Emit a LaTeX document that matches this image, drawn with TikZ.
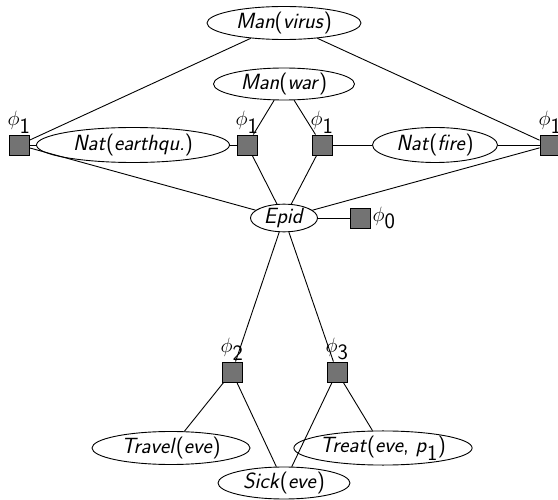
\documentclass[tikz,border=0pt]{standalone}
\usetikzlibrary{shapes.geometric}
\begin{document}
\begin{tikzpicture}[x=1pt,y=-1pt,
  every node/.style={font=\sffamily\fontsize{22}{26}\selectfont},
  var/.style={ellipse,draw,line width=0.9pt,inner sep=0pt},
  fac/.style={rectangle,draw,line width=0.9pt,fill=black!55,minimum size=20pt,inner sep=0pt},
  edge/.style={line width=0.9pt}]
\useasboundingbox (0,0) rectangle (558,500);
\newcommand{\lbl}[2]{\textit{#1}(\textit{#2})}
\newcommand{\phisub}[1]{$\phi_{\textsf{#1}}$}
\node[var,minimum width=154pt,minimum height=33pt] (virus) at (284,23) {\lbl{Man}{virus}};
\node[var,minimum width=141pt,minimum height=32pt] (war) at (284,84) {\lbl{Man}{war}};
\node[var,minimum width=193pt,minimum height=35pt] (eq) at (133,145) {\lbl{Nat}{earthqu.}};
\node[var,minimum width=125pt,minimum height=35pt] (fire) at (435,145) {\lbl{Nat}{fire}};
\node[var,minimum width=67pt,minimum height=25pt] (epid) at (284,218) {\textit{Epid}};
\node[var,minimum width=158pt,minimum height=33pt] (travel) at (171,448) {\lbl{Travel}{eve}};
\node[var,minimum width=164pt,minimum height=33pt] (treat) at (383,448) {\textit{Treat}(\textit{eve}, \textit{p}$_{\textsf{1}}$)};
\node[var,minimum width=132pt,minimum height=32pt] (sick) at (284,483) {\lbl{Sick}{eve}};
\node[fac,label={[inner sep=1pt]above:\phisub{1}}] (f1a) at (19,145) {};
\node[fac,label={[inner sep=1pt]above:\phisub{1}}] (f1b) at (247,145) {};
\node[fac,label={[inner sep=1pt]above:\phisub{1}}] (f1c) at (322,145) {};
\node[fac,label={[inner sep=1pt]above:\phisub{1}}] (f1d) at (550,145) {};
\node[fac,label={[inner sep=2pt]right:\phisub{0}}] (f0) at (360,218) {};
\node[fac,label={[inner sep=1pt]above:\phisub{2}}] (f2) at (232,372) {};
\node[fac,label={[inner sep=1pt]above:\phisub{3}}] (f3) at (337,372) {};
\draw[edge] (virus) -- (f1a);
\draw[edge] (virus) -- (f1d);
\draw[edge] (war) -- (f1b);
\draw[edge] (war) -- (f1c);
\draw[edge] (f1a) -- (eq);
\draw[edge] (eq) -- (f1b);
\draw[edge] (f1c) -- (fire);
\draw[edge] (fire) -- (f1d);
\draw[edge] (f1a) -- (epid);
\draw[edge] (f1b) -- (epid);
\draw[edge] (f1c) -- (epid);
\draw[edge] (f1d) -- (epid);
\draw[edge] (epid) -- (f0);
\draw[edge] (epid) -- (f2);
\draw[edge] (epid) -- (f3);
\draw[edge] (f2) -- (travel);
\draw[edge] (f2) -- (sick);
\draw[edge] (f3) -- (sick);
\draw[edge] (f3) -- (treat);
\end{tikzpicture}
\end{document}
